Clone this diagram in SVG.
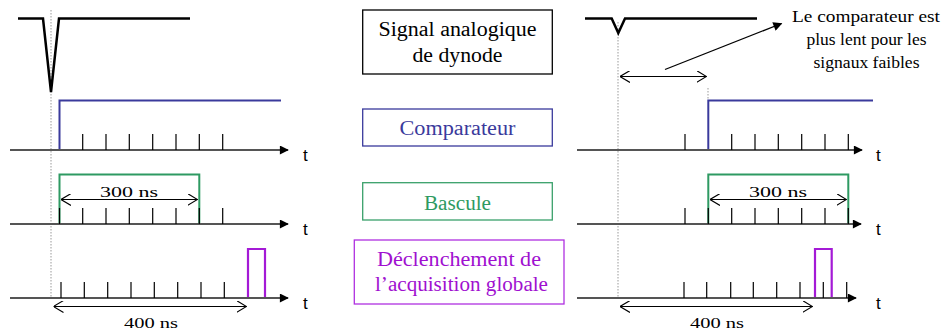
<svg xmlns="http://www.w3.org/2000/svg" width="943" height="332" viewBox="0 0 943 332">
<defs>
<marker id="tip" viewBox="0 0 10 10" refX="9" refY="5" markerWidth="10" markerHeight="9" markerUnits="userSpaceOnUse" orient="auto"><path d="M0,0 L10,5 L0,10 z" fill="#000"/></marker>
<marker id="open" viewBox="0 0 10 12" refX="10" refY="6" markerWidth="10" markerHeight="12" markerUnits="userSpaceOnUse" orient="auto-start-reverse"><path d="M0,0 L10,6 L0,12" fill="none" stroke="#000" stroke-width="1.1"/></marker>
<style>
.axis{stroke:#555;stroke-width:2;fill:none}
.tick{stroke:#000;stroke-width:1.2}
.sig{stroke:#000;stroke-width:2.5;fill:none;stroke-linejoin:miter}
.dot{stroke:#999;stroke-width:1;stroke-dasharray:1.5 1.5;fill:none}
.cmp{stroke:#3a3a9c;stroke-width:2;fill:none}
.bsc{stroke:#2e9a62;stroke-width:2;fill:none}
.trg{stroke:#a41ad6;stroke-width:2.2;fill:none}
.dim{stroke:#000;stroke-width:1.2;fill:none}
.box{fill:#fff;stroke-width:1.3}
</style>
</defs>

<g id="connectors">
<line class="dot" x1="51" y1="10" x2="51" y2="298"/>
<line class="dot" x1="618" y1="22" x2="618" y2="298"/>
<line class="dot" x1="708" y1="88" x2="708" y2="100"/>

<polyline class="sig" points="18,18.5 43,18.5 51,92 59,18.5 190,18.5"/>
<polyline class="cmp" points="59.5,150 59.5,100.5 281,100.5"/>
<line class="axis" x1="10" y1="150" x2="288" y2="150" marker-end="url(#tip)"/>
<g class="tick">
<line x1="82.7" y1="134" x2="82.7" y2="150"/><line x1="106" y1="134" x2="106" y2="150"/><line x1="129.3" y1="134" x2="129.3" y2="150"/><line x1="152.7" y1="134" x2="152.7" y2="150"/><line x1="176" y1="134" x2="176" y2="150"/><line x1="199.3" y1="134" x2="199.3" y2="150"/><line x1="222.7" y1="134" x2="222.7" y2="150"/>
</g>
<polyline class="bsc" points="59.5,224 59.5,174.5 199.3,174.5 199.3,224"/>
<line class="axis" x1="10" y1="224" x2="288" y2="224" marker-end="url(#tip)"/>
<g class="tick">
<line x1="59.5" y1="208" x2="59.5" y2="224"/><line x1="82.7" y1="208" x2="82.7" y2="224"/><line x1="106" y1="208" x2="106" y2="224"/><line x1="129.3" y1="208" x2="129.3" y2="224"/><line x1="152.7" y1="208" x2="152.7" y2="224"/><line x1="176" y1="208" x2="176" y2="224"/><line x1="199.3" y1="208" x2="199.3" y2="224"/><line x1="222.7" y1="208" x2="222.7" y2="224"/>
</g>
<line class="dim" x1="61" y1="199.5" x2="197.5" y2="199.5" marker-start="url(#open)" marker-end="url(#open)"/>
<polyline class="trg" points="248,298 248,249 265,249 265,298"/>
<line class="axis" x1="10" y1="298" x2="288" y2="298" marker-end="url(#tip)"/>
<g class="tick">
<line x1="61" y1="282" x2="61" y2="298"/><line x1="84.3" y1="282" x2="84.3" y2="298"/><line x1="107.7" y1="282" x2="107.7" y2="298"/><line x1="131" y1="282" x2="131" y2="298"/><line x1="154.3" y1="282" x2="154.3" y2="298"/><line x1="177.7" y1="282" x2="177.7" y2="298"/><line x1="201" y1="282" x2="201" y2="298"/><line x1="224.3" y1="282" x2="224.3" y2="298"/>
</g>
<line class="dim" x1="53.5" y1="306.5" x2="246.5" y2="306.5" marker-start="url(#open)" marker-end="url(#open)"/>

<polyline class="sig" points="585,18.5 611.7,18.5 618.3,33 625,18.5 757,18.5"/>
<polyline class="cmp" points="708.3,150 708.3,100.5 873,100.5"/>
<line class="axis" x1="577" y1="150" x2="862" y2="150" marker-end="url(#tip)"/>
<g class="tick">
<line x1="685" y1="134" x2="685" y2="150"/><line x1="731.7" y1="134" x2="731.7" y2="150"/><line x1="755" y1="134" x2="755" y2="150"/><line x1="778.3" y1="134" x2="778.3" y2="150"/><line x1="801.7" y1="134" x2="801.7" y2="150"/><line x1="825" y1="134" x2="825" y2="150"/><line x1="848.3" y1="134" x2="848.3" y2="150"/>
</g>
<polyline class="bsc" points="708.3,224 708.3,174.5 848.3,174.5 848.3,224"/>
<line class="axis" x1="577" y1="224" x2="861" y2="224" marker-end="url(#tip)"/>
<g class="tick">
<line x1="685" y1="208" x2="685" y2="224"/><line x1="708.3" y1="208" x2="708.3" y2="224"/><line x1="731.7" y1="208" x2="731.7" y2="224"/><line x1="755" y1="208" x2="755" y2="224"/><line x1="778.3" y1="208" x2="778.3" y2="224"/><line x1="801.7" y1="208" x2="801.7" y2="224"/><line x1="825" y1="208" x2="825" y2="224"/><line x1="848.3" y1="208" x2="848.3" y2="224"/>
</g>
<line class="dim" x1="710" y1="199.5" x2="846.5" y2="199.5" marker-start="url(#open)" marker-end="url(#open)"/>
<polyline class="trg" points="815,298 815,249 831.7,249 831.7,298"/>
<line class="axis" x1="577" y1="298" x2="856" y2="298" marker-end="url(#tip)"/>
<g class="tick">
<line x1="684" y1="282" x2="684" y2="298"/><line x1="706.7" y1="282" x2="706.7" y2="298"/><line x1="730.7" y1="282" x2="730.7" y2="298"/><line x1="753.3" y1="282" x2="753.3" y2="298"/><line x1="776.7" y1="282" x2="776.7" y2="298"/><line x1="800" y1="282" x2="800" y2="298"/><line x1="823.3" y1="282" x2="823.3" y2="298"/><line x1="846.7" y1="282" x2="846.7" y2="298"/>
</g>
<line class="dim" x1="620" y1="306.5" x2="812.5" y2="306.5" marker-start="url(#open)" marker-end="url(#open)"/>
<line class="dim" x1="620" y1="76.5" x2="706.5" y2="76.5" marker-start="url(#open)" marker-end="url(#open)"/>
<line x1="665" y1="69.5" x2="781.5" y2="23.5" stroke="#000" stroke-width="1.3" marker-end="url(#tip)"/>
</g>

<g id="labels">
<g font-family="Liberation Sans, Arial, sans-serif" font-size="17" fill="#000">
<text x="303" y="161">t</text>
<text x="303" y="235">t</text>
<text x="303" y="309">t</text>
<text x="876" y="161">t</text>
<text x="876" y="235">t</text>
<text x="876" y="309">t</text>
</g>
<g font-family="Liberation Serif, serif" text-anchor="middle" fill="#000">
<text x="129" y="197" font-size="15" textLength="58" lengthAdjust="spacingAndGlyphs">300 ns</text>
<text x="778" y="197" font-size="15" textLength="58" lengthAdjust="spacingAndGlyphs">300 ns</text>
<text x="151" y="328" font-size="15" textLength="54" lengthAdjust="spacingAndGlyphs">400 ns</text>
<text x="717" y="328" font-size="15" textLength="54" lengthAdjust="spacingAndGlyphs">400 ns</text>
<text x="866" y="22" font-size="16" textLength="148" lengthAdjust="spacingAndGlyphs">Le comparateur est</text>
<text x="866.5" y="45" font-size="16" textLength="120" lengthAdjust="spacingAndGlyphs">plus lent pour les</text>
<text x="866.5" y="68" font-size="16" textLength="106" lengthAdjust="spacingAndGlyphs">signaux faibles</text>
</g>
</g>

<g id="node-signal" font-family="Liberation Serif, serif" text-anchor="middle" font-size="20">
<rect class="box" x="362.7" y="10" width="189.6" height="64" stroke="#000"/>
<text x="457.5" y="35.5" fill="#000" textLength="158" lengthAdjust="spacingAndGlyphs">Signal analogique</text>
<text x="457.5" y="61.5" fill="#000" textLength="90" lengthAdjust="spacingAndGlyphs">de dynode</text>
</g>
<g id="node-comparateur" font-family="Liberation Serif, serif" text-anchor="middle" font-size="20">
<rect class="box" x="362.7" y="109" width="189.6" height="37" stroke="#3a3a9c"/>
<text x="457.5" y="135" fill="#3a3a9c" textLength="116" lengthAdjust="spacingAndGlyphs">Comparateur</text>
</g>
<g id="node-bascule" font-family="Liberation Serif, serif" text-anchor="middle" font-size="20">
<rect class="box" x="362.7" y="182.7" width="189.6" height="37.3" stroke="#3aa06a"/>
<text x="457.5" y="209.5" fill="#2e9a62" textLength="67" lengthAdjust="spacingAndGlyphs">Bascule</text>
</g>
<g id="node-declenchement" font-family="Liberation Serif, serif" text-anchor="middle" font-size="20">
<rect class="box" x="354.3" y="240" width="209.7" height="64" stroke="#b030e0"/>
<text x="459" y="266" fill="#a010d0" textLength="164" lengthAdjust="spacingAndGlyphs">Déclenchement de</text>
<text x="461.5" y="290.5" fill="#a010d0" textLength="173" lengthAdjust="spacingAndGlyphs">l’acquisition globale</text>
</g>
</svg>
